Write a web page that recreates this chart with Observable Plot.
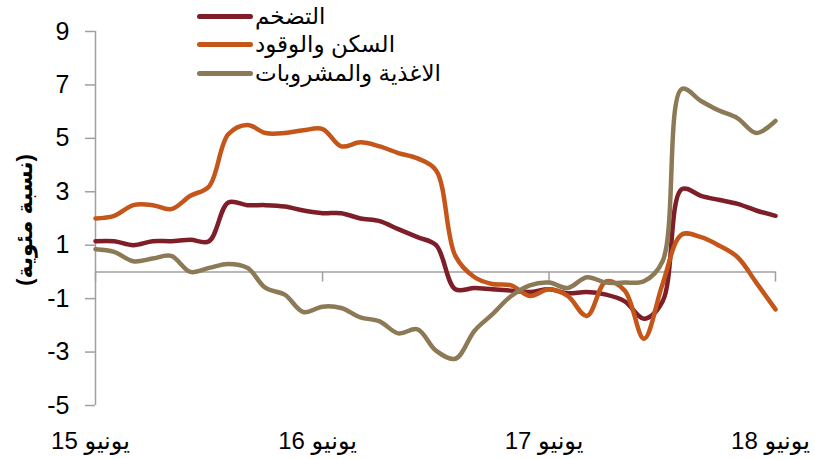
<!DOCTYPE html>
<html>
<head>
<meta charset="utf-8">
<script src="https://cdn.jsdelivr.net/npm/d3@7"></script>
<script src="https://cdn.jsdelivr.net/npm/@observablehq/plot@0.6"></script>
<style>
  html, body { margin: 0; padding: 0; background: #fff; }
  #wrap { position: relative; width: 815px; height: 459px; font-family: "Liberation Sans", Arial, "DejaVu Sans", sans-serif; }
  #legend { position: absolute; left: 197px; top: 2px; }
  .row { display: flex; align-items: center; height: 28.5px; }
  .sw { width: 56px; height: 5px; border-radius: 3px; margin-right: 2px; }
  .lt { font-size: 23px; color: #000; line-height: 1; }
  #ylab { position: absolute; left: 25px; top: 220px; transform: translate(-50%, -50%) rotate(-90deg); white-space: nowrap; font-weight: bold; font-size: 22px; direction: rtl; color: #000; }
</style>
</head>
<body>
<div id="wrap"><div id="legend"></div><div id="ylab"></div></div>
<script>
// Series names (legend order)
const seriesNames = ["التضخم", "السكن والوقود", "الاغذية والمشروبات"];
const seriesColors = ["#7D1E28", "#C5561A", "#8C7A57"];

// Monthly observations, June 2015 – June 2018
const startMonth = "2015-06-01";
const inflation = [1.15, 1.15, 1.0, 1.15, 1.15, 1.2, 1.15, 2.6, 2.5, 2.5, 2.45, 2.3, 2.2, 2.2, 2.0, 1.9, 1.6, 1.3, 1.0, -0.65, -0.6, -0.65, -0.7, -0.75, -0.65, -0.8, -0.75, -0.85, -1.1, -1.75, -1.1, 3.1, 2.85, 2.7, 2.55, 2.3, 2.1];
const housing = [2.0, 2.1, 2.5, 2.5, 2.35, 2.85, 3.2, 5.15, 5.5, 5.2, 5.2, 5.3, 5.35, 4.7, 4.85, 4.7, 4.45, 4.25, 3.8, 0.6, -0.2, -0.45, -0.5, -0.9, -0.65, -0.9, -1.65, -0.35, -0.7, -2.5, -0.45, 1.4, 1.3, 1.0, 0.55, -0.4, -1.4];
const food = [0.85, 0.75, 0.4, 0.5, 0.6, 0.0, 0.15, 0.3, 0.15, -0.6, -0.85, -1.5, -1.3, -1.35, -1.7, -1.85, -2.3, -2.15, -2.95, -3.25, -2.2, -1.6, -0.9, -0.5, -0.4, -0.6, -0.2, -0.4, -0.4, -0.35, 0.4, 6.85, 6.4, 6.05, 5.75, 5.2, 5.65];

// Axis ticks
const yTicks = [-5, -3, -1, 1, 3, 5, 7, 9];
const xTickDates = ["2015-06-01", "2016-06-01", "2017-06-01", "2018-06-01"];
const xTickLabels = ["يونيو 15", "يونيو 16", "يونيو 17", "يونيو 18"];
const yLabel = "(نسبة مئوية)";

const start = new Date(startMonth);
const seriesValues = [inflation, housing, food];
const data = [];
seriesValues.forEach((vals, s) => {
  vals.forEach((v, i) => {
    data.push({series: seriesNames[s], date: d3.utcMonth.offset(start, i), value: v});
  });
});
const tickDates = xTickDates.map(d => new Date(d));
const labelMap = new Map(tickDates.map((d, i) => [+d, xTickLabels[i]]));
const endDate = d3.utcMonth.offset(start, inflation.length - 1);

const axisColor = "#A0A0A0";

const chart = Plot.plot({
  width: 815,
  height: 459,
  marginLeft: 95,
  marginRight: 40,
  marginTop: 31,
  marginBottom: 54,
  style: {fontFamily: "'Liberation Sans', Arial, 'DejaVu Sans', sans-serif", background: "#fff"},
  x: {type: "utc", domain: [start, endDate]},
  y: {domain: [-5, 9]},
  color: {domain: seriesNames, range: seriesColors},
  marks: [
    Plot.ruleY([0], {stroke: axisColor, strokeWidth: 1.5}),
    Plot.ruleX(tickDates, {y1: 0, y2: -0.38, stroke: axisColor, strokeWidth: 1.5}),
    Plot.ruleX([start], {stroke: axisColor, strokeWidth: 1.5}),
    Plot.axisY({ticks: yTicks, tickSize: 10, tickPadding: 16, fontSize: 25, label: null, stroke: axisColor, strokeWidth: 1.5, color: "#000", tickFormat: d => String(d)}),
    Plot.axisX({ticks: tickDates, tickSize: 0, tickPadding: 26, dx: -5, fontSize: 24, label: null, tickFormat: d => labelMap.get(+d), color: "#000"}),
    Plot.line(data, {x: "date", y: "value", z: "series", stroke: "series", curve: "catmull-rom", strokeWidth: 4.5, strokeLinecap: "round", strokeLinejoin: "round"})
  ]
});
document.getElementById("wrap").prepend(chart);

document.getElementById("ylab").textContent = yLabel;
const legend = document.getElementById("legend");
seriesNames.forEach((name, i) => {
  const row = document.createElement("div");
  row.className = "row";
  const sw = document.createElement("span");
  sw.className = "sw";
  sw.style.background = seriesColors[i];
  const t = document.createElement("span");
  t.className = "lt";
  t.textContent = name;
  row.append(sw, t);
  legend.append(row);
});
</script>
</body>
</html>
